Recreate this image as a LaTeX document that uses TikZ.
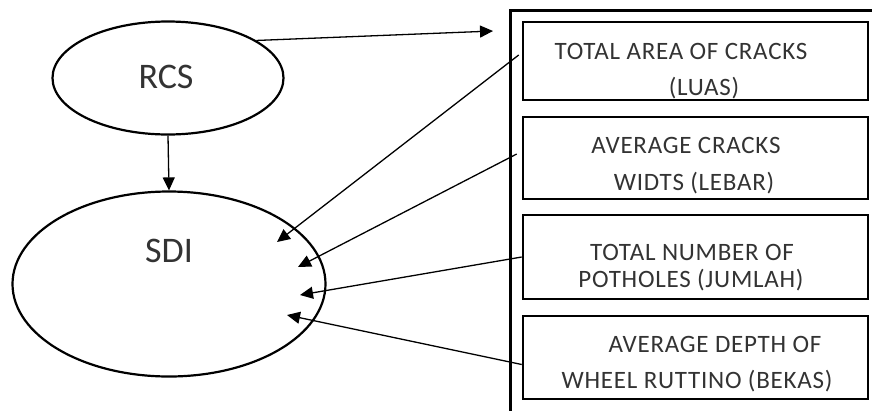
\documentclass[tikz,border=0pt]{standalone}
\usepackage{fontspec}
\setmainfont{Carlito}
\newfontfamily\boxfont[LetterSpace=3]{Carlito}
\usetikzlibrary{shapes.geometric,arrows.meta}
\begin{document}
\begin{tikzpicture}[x=1pt,y=-1pt,
  oval/.style={draw,ellipse,line width=2.2pt,inner sep=0pt,text=black!85},
  itembox/.style={draw,rectangle,line width=2.6pt,minimum width=345pt,inner sep=0pt},
  lbl/.style={anchor=base,inner sep=0pt,text=black!80,font=\boxfont\fontsize{25}{25}\selectfont},
  conn/.style={line width=1.3pt,-{Triangle[length=13pt,width=12pt]}}]
\useasboundingbox (0,0) rectangle (872,410);
% outer frame
\draw[line width=3pt] (510,420) -- (510,10) -- (885,10);
% ellipses
\node[oval,minimum width=231pt,minimum height=113pt] (rcs) at (168,78) {};
\node[oval,minimum width=313pt,minimum height=185pt] (sdi) at (169,284) {};
\node[anchor=base,inner sep=0pt,text=black!80,font=\fontsize{36}{36}\selectfont] (rcst) at (166,88) {RCS};
\node[anchor=base,inner sep=0pt,text=black!80,font=\fontsize{36}{36}\selectfont] (sdit) at (169,262) {SDI};
% item boxes
\node[itembox,minimum height=78pt] (b1) at (695.5,61) {};
\node[itembox,minimum height=82pt] (b2) at (695.5,158) {};
\node[itembox,minimum height=84pt] (b3) at (695.5,257) {};
\node[itembox,minimum height=83pt] (b4) at (695.5,357.5) {};
% labels
\node[lbl] (l1a) at (681,59) {TOTAL AREA OF CRACKS};
\node[lbl] (l1b) at (704,95) {(LUAS)};
\node[lbl] (l2a) at (686,153) {AVERAGE CRACKS};
\node[lbl] (l2b) at (694,190) {WIDTS (LEBAR)};
\node[lbl] (l3a) at (692,260) {TOTAL NUMBER OF};
\node[lbl] (l3b) at (691,287) {POTHOLES (JUMLAH)};
\node[lbl] (l4a) at (715,352) {AVERAGE DEPTH OF};
\node[lbl] (l4b) at (697,388) {WHEEL RUTTINO (BEKAS)};
% arrow targets
\coordinate (top) at (493,31);
\coordinate (t1) at (277,242);
\coordinate (t2) at (298,267);
\coordinate (t3) at (300,295);
\coordinate (t4) at (287,315);
% connectors
\draw[conn] (rcs.23) -- (top);
\draw[conn] (rcs.south) -- (sdi.north);
\draw[conn] ([xshift=-3pt,yshift=6pt]b1.west) -- (t1);
\draw[conn] ([xshift=-5pt,yshift=4pt]b2.west) -- (t2);
\draw[conn] (b3.west) -- (t3);
\draw[conn] ([yshift=-7pt]b4.west) -- (t4);
\end{tikzpicture}
\end{document}
